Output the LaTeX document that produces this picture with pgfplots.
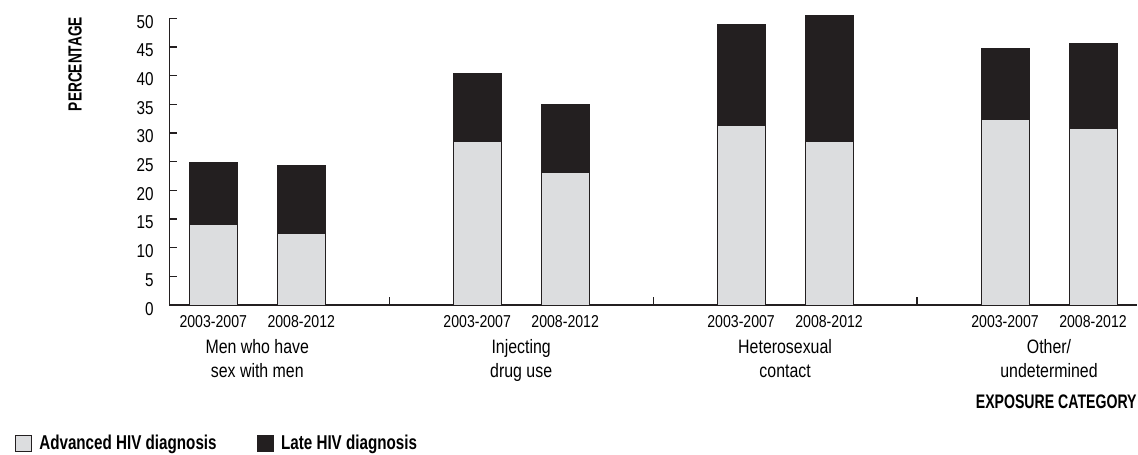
\documentclass[border=0pt]{standalone}
\usepackage{pgfplots}
\pgfplotsset{compat=1.18}
\usepackage{fontspec}
\setmainfont{Liberation Sans}[FakeStretch=0.82]
\newfontfamily\nb{Liberation Sans Bold}[FakeStretch=0.72]
\newfontfamily\lb{Liberation Sans Bold}[FakeStretch=0.76]
\usetikzlibrary{calc}
\definecolor{lightbar}{HTML}{DCDDDF}
\definecolor{darkbar}{HTML}{231F20}
\definecolor{axcol}{HTML}{231F20}
\newcommand{\fs}[1]{\fontsize{#1}{#1}\selectfont}
\begin{document}
\begin{tikzpicture}
\begin{axis}[name=ax, anchor=south west, at={(0,0)},
  scale only axis, width=483.85bp, height=143.35bp,
  xmin=0, xmax=11, ymin=0, ymax=50, clip=false,
  axis lines*=left,
  axis line style={line width=0.75bp, draw=axcol},
  tick align=inside, major tick length=4bp,
  tick style={line width=0.6bp, draw=axcol},
  ytick={0,5,...,50},
  xtick={2.5,5.5,8.5}, xticklabels={},
  extra x ticks={0.5,1.5,3.5,4.5,6.5,7.5,9.5,10.5},
  extra x tick labels={2003-2007,2008-2012,2003-2007,2008-2012,2003-2007,2008-2012,2003-2007,2008-2012},
  extra x tick style={major tick length=0pt,
    xticklabel style={font=\fs{8.6bp}, anchor=base, inner sep=0pt, yshift=-11.25bp}},
  /pgf/number format/assume math mode=true,
  yticklabel style={font=\fs{9.3bp}, anchor=east, inner sep=0pt, xshift=-7.7bp, yshift=-1.8bp},
  ybar stacked, bar width=24bp,
  legend columns=2,
  legend cell align=left,
  legend style={at={(rel axis cs:0,0)}, anchor=west, xshift=-77.4bp, yshift=-69.3bp,
    draw=none, fill=none, inner sep=0pt, font=\lb\fs{10bp},
    nodes={inner sep=0pt},
    /tikz/every odd column/.append style={column sep=3.5bp},
    /tikz/every even column/.append style={column sep=20bp}},
]
\addplot[fill=lightbar, draw=axcol, line width=0.5bp,
  legend image code/.code={\draw[fill=lightbar, draw=axcol, line width=0.5bp] (0bp,-4.1bp) rectangle (8.2bp,4.1bp);}]
  coordinates {(0.5,14.0) (1.5,12.4) (3.5,28.6) (4.5,23.1) (6.5,31.3) (7.5,28.55) (9.5,32.4) (10.5,30.75)};
\addplot[fill=darkbar, draw=darkbar, line width=0.5bp,
  legend image code/.code={\draw[fill=darkbar, draw=darkbar, line width=0.5bp] (0bp,-4.1bp) rectangle (8.2bp,4.1bp);}]
  coordinates {(0.5,10.9) (1.5,11.9) (3.5,11.7) (4.5,11.8) (6.5,17.7) (7.5,21.95) (9.5,12.25) (10.5,14.8)};
\legend{Advanced HIV diagnosis, Late HIV diagnosis}
\node[anchor=base, inner sep=0pt, font=\fs{9.7bp}] at ($(axis cs:1,0)+(0,-24bp)$) {Men who have};
\node[anchor=base, inner sep=0pt, font=\fs{9.7bp}] at ($(axis cs:1,0)+(0,-36bp)$) {sex with men};
\node[anchor=base, inner sep=0pt, font=\fs{9.7bp}] at ($(axis cs:4,0)+(0,-24bp)$) {Injecting};
\node[anchor=base, inner sep=0pt, font=\fs{9.7bp}] at ($(axis cs:4,0)+(0,-36bp)$) {drug use};
\node[anchor=base, inner sep=0pt, font=\fs{9.7bp}] at ($(axis cs:7,0)+(0,-24bp)$) {Heterosexual};
\node[anchor=base, inner sep=0pt, font=\fs{9.7bp}] at ($(axis cs:7,0)+(0,-36bp)$) {contact};
\node[anchor=base, inner sep=0pt, font=\fs{9.7bp}] at ($(axis cs:10,0)+(0,-24bp)$) {Other/};
\node[anchor=base, inner sep=0pt, font=\fs{9.7bp}] at ($(axis cs:10,0)+(0,-36bp)$) {undetermined};
\node[anchor=base east, inner sep=0pt, font=\nb\fs{9.8bp}] at ($(rel axis cs:1,0)+(0,-51.5bp)$) {EXPOSURE CATEGORY};
\node[anchor=base east, rotate=90, inner sep=0pt, font=\nb\fs{9.5bp}] at ($(rel axis cs:0,1)+(-43.8bp,0.8bp)$) {PERCENTAGE};
\end{axis}
\pgfresetboundingbox
\path[use as bounding box] ($(ax.south west)+(-84.65bp,-75bp)$) rectangle ($(ax.south west)+(484.35bp,152.5bp)$);
\end{tikzpicture}
\end{document}
